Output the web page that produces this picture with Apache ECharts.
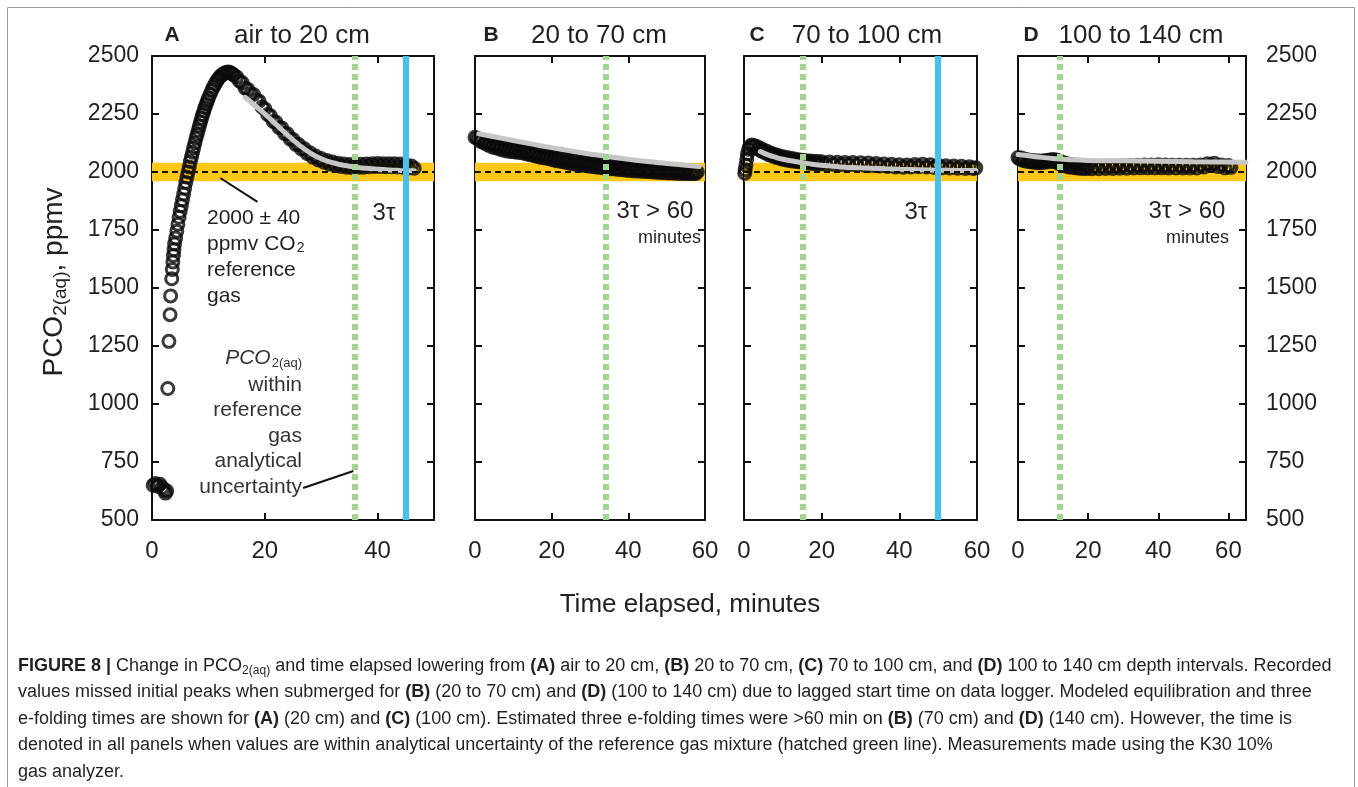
<!DOCTYPE html>
<html>
<head>
<meta charset="utf-8">
<script src="https://cdn.jsdelivr.net/npm/echarts@6/dist/echarts.min.js"></script>
<style>
html,body{margin:0;padding:0;background:#fff;}
#chart{width:1358px;height:787px;}
</style>
</head>
<body>
<div id="chart"></div>
<script>
// ---------------- data ----------------
const panelLetters = ['A', 'B', 'C', 'D'];
const panelTitles = ['air to 20 cm', '20 to 70 cm', '70 to 100 cm', '100 to 140 cm'];
const xMax = [50, 60, 60, 65];
const xTicks = [0, 20, 40, 60];
const yTicks = [500, 750, 1000, 1250, 1500, 1750, 2000, 2250, 2500];
const refGas = 2000;
const refBand = [1960, 2040];
const greenTime = [36, 34, 15, 12];      // within analytical uncertainty
const blueTime = [45, null, 50, null];   // three e-folding times

const measA = [
  [0.2,650],[0.6,657],[1.0,646],[1.4,654],[1.8,640],[2.1,630],[2.4,616],[2.6,626],
  [2.8,1067],[3.0,1270],[3.2,1385],[3.3,1466],[3.5,1540],[3.6,1580],[3.7,1612],[3.8,1640],
  [3.9,1665],[4.0,1690],[4.2,1715],[4.4,1745],[4.6,1775],[4.8,1805],[5.0,1830],[5.2,1855],
  [5.4,1880],[5.6,1905],[5.8,1930],[6.0,1955],[6.2,1978],[6.4,2000],[6.6,2022],[6.8,2045],
  [7.0,2065],[7.2,2085],[7.4,2105],[7.6,2125],[7.8,2145],[8.0,2162],[8.2,2180],[8.4,2198],
  [8.6,2215],[8.8,2232],[9.0,2248],[9.2,2263],[9.4,2278],[9.6,2292],[9.8,2305],[10.0,2318],
  [10.3,2335],[10.6,2352],[10.9,2367],[11.2,2380],[11.5,2393],[11.8,2403],[12.1,2412],[12.4,2419],
  [12.7,2424],[13.0,2428],[13.3,2430],[13.6,2431],[13.9,2428],[14.2,2424],[14.5,2418],[15.0,2410],
  [15.5,2392],[16.0,2385],[16.5,2362],[17.0,2356],[17.5,2336],[18.0,2334],[18.5,2310],[19.0,2305],
  [19.5,2280],[20.0,2272],[20.5,2248],[21.0,2242],[21.5,2218],[22.0,2214],[22.5,2192],[23.0,2190],
  [23.5,2166],[24.0,2165],[24.5,2142],[25.0,2140],[25.5,2119],[26.0,2118],[26.5,2099],[27.0,2100],
  [27.5,2080],[28.0,2083],[28.5,2064],[29.0,2069],[29.5,2052],[30.0,2058],[30.5,2042],[31.0,2050],
  [31.5,2034],[32.0,2043],[32.5,2028],[33.0,2038],[33.5,2024],[34.0,2034],[34.5,2021],[35.0,2032],
  [35.5,2019],[36.0,2031],[36.5,2020],[37.0,2033],[37.5,2021],[38.0,2035],[38.5,2023],[39.0,2036],
  [39.5,2024],[40.0,2037],[40.5,2024],[41.0,2036],[41.5,2023],[42.0,2036],[42.5,2023],[43.0,2036],
  [43.5,2022],[44.0,2034],[44.5,2021],[45.0,2031],[45.5,2018],[46.0,2026],[46.5,2016]
];
const modelA = [
  [16.5,2322],[18,2292],[20,2250],[22,2205],[24,2160],[26,2118],[28,2083],[30,2057],
  [32,2040],[34,2029],[36,2021],[38,2016],[40,2012],[42,2009],[44,2007],[46.5,2005]
];

const measB = [
  [0,2150],[0.5,2146],[1,2140],[1.5,2132],[2,2136],[2.5,2124],[3,2128],[3.5,2116],[4,2124],
  [4.5,2108],[5,2118],[5.5,2104],[6,2114],[6.5,2098],[7,2110],[7.5,2094],[8,2106],[8.5,2090],
  [9,2103],[9.5,2088],[10,2100],[10.5,2086],[11,2098],[11.5,2084],[12,2096],[12.5,2082],[13,2094],
  [13.5,2078],[14,2090],[14.5,2074],[15,2086],[15.5,2070],[16,2082],[16.5,2066],[17,2078],
  [17.5,2062],[18,2074],[18.5,2060],[19,2071],[19.5,2056],[20,2068],[20.5,2052],[21,2064],
  [21.5,2048],[22,2060],[22.5,2045],[23,2057],[23.5,2042],[24,2054],[24.5,2039],[25,2050],
  [25.5,2036],[26,2047],[26.5,2033],[27,2045],[27.5,2031],[28,2042],[28.5,2028],[29,2040],
  [29.5,2026],[30,2037],[30.5,2024],[31,2035],[31.5,2022],[32,2033],[32.5,2020],[33,2031],
  [33.5,2018],[34,2029],[34.5,2016],[35,2027],[35.5,2014],[36,2025],[36.5,2013],[37,2024],
  [37.5,2011],[38,2022],[38.5,2010],[39,2020],[39.5,2008],[40,2019],[40.5,2007],[41,2017],
  [41.5,2005],[42,2016],[42.5,2004],[43,2014],[43.5,2003],[44,2013],[44.5,2002],[45,2012],
  [45.5,2001],[46,2011],[46.5,2000],[47,2010],[47.5,1999],[48,2008],[48.5,1998],[49,2007],
  [49.5,1997],[50,2006],[50.5,1996],[51,2005],[51.5,1996],[52,2004],[52.5,1995],[53,2003],
  [53.5,1994],[54,2003],[54.5,1994],[55,2002],[55.5,1993],[56,2001],[56.5,1993],[57,2000],
  [57.5,1993],[58,2000]
];
const modelB = [
  [1,2165],[5,2152],[10,2136],[15,2120],[20,2105],[25,2091],[30,2078],[35,2066],
  [40,2055],[45,2045],[50,2037],[55,2029],[58.5,2024]
];

const measC = [
  [0.2,1995],[0.3,2010],[0.5,2030],[0.7,2055],[0.9,2078],[1.2,2098],[1.5,2110],[2,2116],
  [2.5,2112],[3,2112],[3.5,2100],[4,2104],[4.5,2090],[5,2096],[5.5,2082],[6,2088],[6.5,2074],
  [7,2081],[7.5,2068],[8,2075],[8.5,2062],[9,2070],[9.5,2057],[10,2066],[10.5,2053],[11,2062],
  [11.5,2050],[12,2059],[12.5,2047],[13,2056],[13.5,2045],[14,2053],[14.5,2043],[15,2051],
  [15.5,2041],[16,2049],[16.5,2039],[17,2047],[17.5,2037],[18,2046],[18.5,2036],[19,2045],
  [19.5,2035],[20,2044],[21,2034],[22,2043],[23,2033],[24,2042],[25,2032],[26,2041],[27,2031],
  [28,2041],[29,2030],[30,2040],[31,2029],[32,2039],[33,2028],[34,2037],[35,2026],[36,2035],
  [37,2024],[38,2033],[39,2022],[40,2031],[41,2021],[42,2030],[43,2022],[44,2032],[45,2023],
  [46,2033],[47,2022],[48,2031],[49,2020],[50,2029],[51,2018],[52,2027],[53,2017],[54,2026],
  [55,2016],[56,2025],[57,2015],[58,2023],[59,2015],[59.7,2018]
];
const modelC = [
  [4.2,2088],[6,2075],[8,2064],[10,2055],[13.6,2044],[17,2035],[20,2029],[25,2022],
  [30,2018],[35,2015],[40,2012],[45,2010],[50,2008],[55,2007],[59.7,2006]
];

const measD = [
  [0,2062],[0.5,2056],[1,2060],[1.5,2050],[2,2055],[2.5,2046],[3,2052],[3.5,2044],[4,2050],
  [4.5,2042],[5,2048],[5.5,2040],[6,2047],[6.5,2040],[7,2047],[7.5,2042],[8,2050],[8.5,2044],
  [9,2052],[9.5,2046],[10,2054],[10.5,2044],[11,2052],[11.5,2038],[12,2046],[12.5,2030],[13,2040],
  [13.5,2026],[14,2036],[14.5,2022],[15,2032],[15.5,2020],[16,2030],[16.5,2018],[17,2028],
  [17.5,2016],[18,2027],[18.5,2015],[19,2026],[19.5,2015],[20,2026],[21,2014],[22,2025],[23,2014],
  [24,2025],[25,2015],[26,2026],[27,2015],[28,2026],[29,2016],[30,2027],[31,2016],[32,2028],
  [33,2017],[34,2029],[35,2018],[36,2030],[37,2018],[38,2030],[39,2018],[40,2031],[41,2018],
  [42,2030],[43,2017],[44,2029],[45,2017],[46,2029],[47,2017],[48,2029],[49,2017],[50,2029],
  [51,2017],[52,2030],[53,2022],[54,2036],[55,2030],[56,2038],[57,2024],[58,2030],[59,2018],
  [60,2028],[60.7,2020]
];
const modelD = [
  [0,2075],[5,2066],[10,2058],[15,2053],[20,2050],[30,2048],[40,2046],[50,2044],[65,2042]
];

const measured = [measA, measB, measC, measD];
const modeled = [modelA, modelB, modelC, modelD];

// annotation leader lines (panel A, data coordinates)
const leaderRef = [[12.1,1974],[18.7,1871]];
const leaderUnc = [[26.8,638],[35.7,711]];

// ---------------- chart ----------------
const FONT = 'Liberation Sans, Arial, Helvetica, sans-serif';
const INK = '#231f20';
const grids = [
  {left:152, top:56, width:282, height:464},
  {left:475, top:56, width:230, height:464},
  {left:744, top:56, width:233, height:464},
  {left:1018, top:56, width:228, height:464}
];

const xAxes = [], yAxes = [], series = [];
const lineStyleAxis = {color:'#111', width:2};
const plain = v => String(v);
for (let i = 0; i < 4; i++) {
  const hideMax = (xMax[i] % 20) !== 0;
  xAxes.push({
    gridIndex:i, type:'value', min:0, max:xMax[i], interval:20, position:'bottom',
    axisLine:{show:true, onZero:false, lineStyle:lineStyleAxis},
    axisTick:{show:true, inside:true, length:7, lineStyle:{color:'#111', width:2}},
    axisLabel:{show:true, fontSize:24, color:INK, fontFamily:FONT, margin:19, showMaxLabel: !hideMax,
      showMinLabel:true, formatter:plain},
    splitLine:{show:false}
  });
}
for (let i = 0; i < 4; i++) {
  xAxes.push({
    gridIndex:i, type:'value', min:0, max:xMax[i], interval:20, position:'top',
    axisLine:{show:true, onZero:false, lineStyle:lineStyleAxis},
    axisTick:{show:true, inside:true, length:7, lineStyle:{color:'#111', width:2}},
    axisLabel:{show:false}, splitLine:{show:false}
  });
}
for (let i = 0; i < 4; i++) {
  yAxes.push({
    gridIndex:i, type:'value', min:500, max:2500, interval:250, position:'left',
    axisLine:{show:true, onZero:false, lineStyle:lineStyleAxis},
    axisTick:{show:true, inside:true, length:7, lineStyle:{color:'#111', width:2}},
    axisLabel:{show:i===0, fontSize:23, color:INK, fontFamily:FONT, margin:13, formatter:plain},
    splitLine:{show:false}
  });
}
for (let i = 0; i < 4; i++) {
  yAxes.push({
    gridIndex:i, type:'value', min:500, max:2500, interval:250, position:'right',
    axisLine:{show:true, onZero:false, lineStyle:lineStyleAxis},
    axisTick:{show:true, inside:true, length:7, lineStyle:{color:'#111', width:2}},
    axisLabel:{show:i===3, fontSize:23, color:INK, fontFamily:FONT, margin:20, formatter:plain},
    splitLine:{show:false}
  });
}

for (let i = 0; i < 4; i++) {
  series.push({
    type:'line', xAxisIndex:i, yAxisIndex:i, data:[], z:1, silent:true,
    markArea:{silent:true, itemStyle:{color:'#ffc814'},
      data:[[{yAxis:refBand[0]},{yAxis:refBand[1]}]]}
  });
  const ml = [
    {yAxis:refGas, lineStyle:{color:'#111', width:1.8, type:[6,4]}},
    {xAxis:greenTime[i], lineStyle:{color:'#a0d78e', width:6, type:[6,4]}}
  ];
  if (blueTime[i] !== null) ml.push({xAxis:blueTime[i], lineStyle:{color:'#45c2f1', width:6, type:'solid'}});
  series.push({
    type:'line', xAxisIndex:i, yAxisIndex:i, data:[], z:2, silent:true,
    markLine:{silent:true, symbol:['none','none'], label:{show:false}, data:ml}
  });
  series.push({
    type:'scatter', xAxisIndex:i, yAxisIndex:i, data:measured[i], z:3, silent:true,
    symbol:'circle', symbolSize:12,
    itemStyle:{color:'rgba(255,255,255,0)', borderColor:'#0a0a0a', borderWidth:3}
  });
  series.push({
    type:'line', xAxisIndex:i, yAxisIndex:i, data:modeled[i], z:4, silent:true,
    showSymbol:false, smooth:true,
    lineStyle:{color:'#c6c6c6', width:5, cap:'round'}
  });
}
[leaderRef, leaderUnc].forEach(d => series.push({
  type:'line', xAxisIndex:0, yAxisIndex:0, data:d, z:5, silent:true, showSymbol:false,
  lineStyle:{color:'#111', width:2}
}));

// ---------------- texts ----------------
const graphics = [];
function txt(x, y, text, opt) {
  graphics.push({
    type:'text', x:x, y:y, silent:true,
    style:Object.assign({text:text, fill:INK, font:'24px ' + FONT, align:'center', verticalAlign:'middle'}, opt || {})
  });
}
const letterX = [172, 491, 757, 1031];
const titleX = [302, 599, 867, 1141];
for (let i = 0; i < 4; i++) {
  txt(letterX[i], 35, panelLetters[i], {font:'bold 21px ' + FONT});
  txt(titleX[i], 36, panelTitles[i], {font:'26px ' + FONT});
}
txt(207, 218, '2000 ± 40', {align:'left', font:'21px ' + FONT});
graphics.push({type:'text', x:207, y:244, silent:true, style:{
  text:'{n|ppmv CO}{s|2}', align:'left', verticalAlign:'middle',
  rich:{n:{font:'21px ' + FONT, fill:INK}, s:{font:'14px ' + FONT, fill:INK, padding:[8,0,0,1]}}}});
txt(207, 270, 'reference', {align:'left', font:'21px ' + FONT});
txt(207, 296, 'gas', {align:'left', font:'21px ' + FONT});
txt(384, 213, '3τ', {font:'24px ' + FONT});

graphics.push({type:'text', x:302, y:358, silent:true, style:{
  text:'{n|PCO}{s|2(aq)}', align:'right', verticalAlign:'middle',
  rich:{n:{font:'italic 21px ' + FONT, fill:'#333'}, s:{font:'13px ' + FONT, fill:'#333', padding:[10,0,0,1]}}}});
const uncLines = ['within', 'reference', 'gas', 'analytical', 'uncertainty'];
uncLines.forEach((t, k) => txt(302, 385 + k * 25.5, t, {align:'right', font:'21px ' + FONT, fill:'#333'}));

txt(655, 211, '3τ > 60', {font:'24px ' + FONT});
txt(701, 238, 'minutes', {align:'right', font:'18px ' + FONT});
txt(916, 212, '3τ', {font:'24px ' + FONT});
txt(1187, 211, '3τ > 60', {font:'24px ' + FONT});
txt(1229, 238, 'minutes', {align:'right', font:'18px ' + FONT});

txt(690, 605, 'Time elapsed, minutes', {font:'26px ' + FONT});
graphics.push({type:'text', x:54, y:282, rotation:Math.PI/2, silent:true, style:{
  text:'{n|PCO}{s|2(aq)}{n|, ppmv}', align:'center', verticalAlign:'middle',
  rich:{n:{font:'28px ' + FONT, fill:INK}, s:{font:'19px ' + FONT, fill:INK, padding:[14,0,0,0]}}}});

const CF = '18px ' + FONT;
const CB = 'bold 18px ' + FONT;
const capRich = {n:{font:CF, fill:'#231f20'}, b:{font:CB, fill:'#231f20'}, s:{font:'12px ' + FONT, fill:'#231f20', padding:[9,0,0,0]}};
const captionLines = [
  '{b|FIGURE 8 |}{n| Change in PCO}{s|2(aq)}{n| and time elapsed lowering from }{b|(A)}{n| air to 20 cm, }{b|(B)}{n| 20 to 70 cm, }{b|(C)}{n| 70 to 100 cm, and }{b|(D)}{n| 100 to 140 cm depth intervals. Recorded}',
  '{n|values missed initial peaks when submerged for }{b|(B)}{n| (20 to 70 cm) and }{b|(D)}{n| (100 to 140 cm) due to lagged start time on data logger. Modeled equilibration and three}',
  '{n|e-folding times are shown for }{b|(A)}{n| (20 cm) and }{b|(C)}{n| (100 cm). Estimated three e-folding times were >60 min on }{b|(B)}{n| (70 cm) and }{b|(D)}{n| (140 cm). However, the time is}',
  '{n|denoted in all panels when values are within analytical uncertainty of the reference gas mixture (hatched green line). Measurements made using the K30 10%}',
  '{n|gas analyzer.}'
];
captionLines.forEach((t, k) => graphics.push({type:'text', x:18, y:666 + k * 26.5, silent:true,
  style:{text:t, align:'left', verticalAlign:'middle', rich:capRich}}));

graphics.push({type:'rect', silent:true, z:-10, shape:{x:7.5, y:7.5, width:1347, height:800},
  style:{fill:'none', stroke:'#9a9a9a', lineWidth:1}});

const chart = echarts.init(document.getElementById('chart'), null, {renderer:'canvas'});
chart.setOption({
  animation:false,
  backgroundColor:'#fff',
  grid:grids,
  xAxis:xAxes,
  yAxis:yAxes,
  series:series,
  graphic:graphics
});
</script>
</body>
</html>
